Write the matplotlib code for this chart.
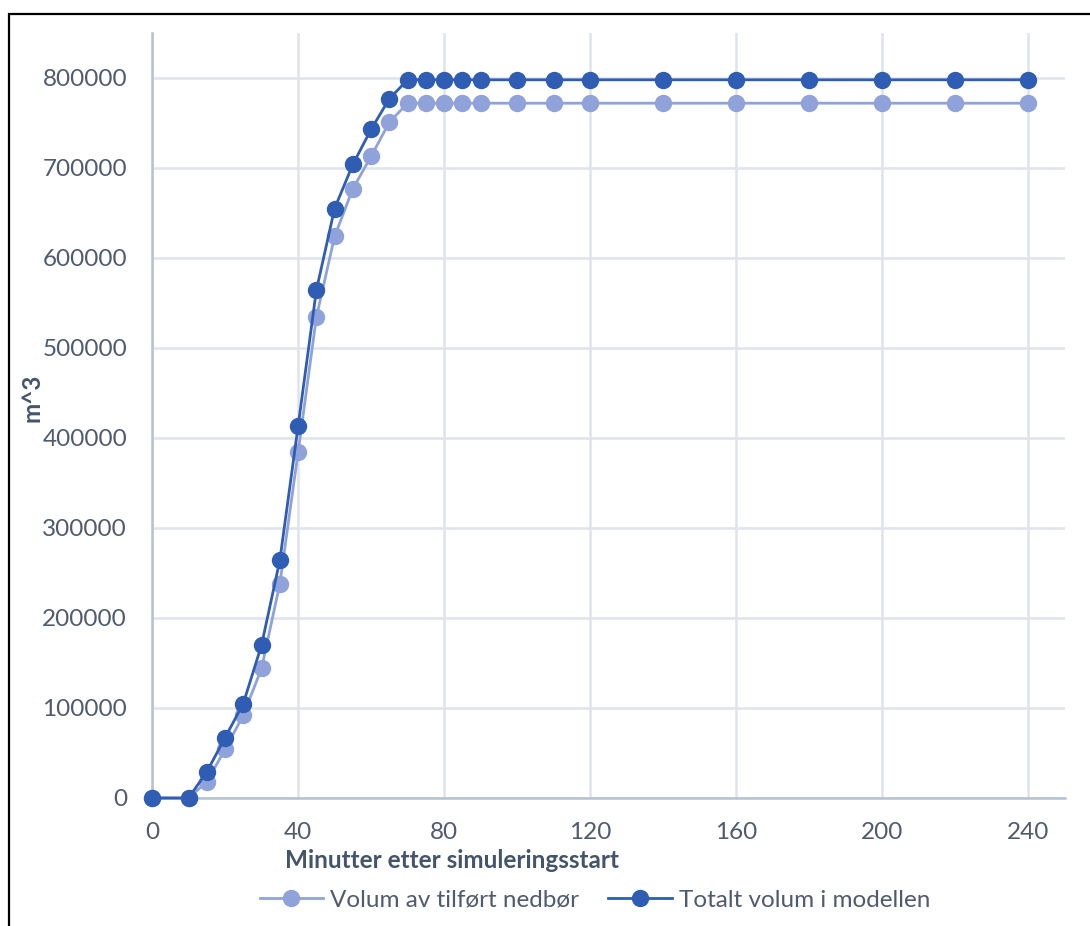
import matplotlib.pyplot as plt
from matplotlib.patches import Rectangle

plt.rcParams['font.family'] = ['Lato', 'DejaVu Sans']

# minutes after simulation start
minutes = [0, 10, 15, 20, 25, 30, 35, 40, 45, 50, 55, 60, 65, 70, 75, 80, 85, 90,
           100, 110, 120, 140, 160, 180, 200, 220, 240]
# volume of added precipitation (m^3)
tilfort = [0, 0, 18000, 54000, 92000, 144000, 238000, 384000, 534000, 624000,
           677000, 713000, 751000, 772000, 772000, 772000, 772000, 772000,
           772000, 772000, 772000, 772000, 772000, 772000, 772000, 772000, 772000]
# total volume in the model (m^3)
totalt = [0, 0, 29000, 67000, 105000, 170000, 264000, 413000, 564000, 655000,
          704000, 743000, 777000, 798000, 798000, 798000, 798000, 798000,
          798000, 798000, 798000, 798000, 798000, 798000, 798000, 798000, 798000]

x_ticks = [0, 40, 80, 120, 160, 200, 240]
y_ticks = [0, 100000, 200000, 300000, 400000, 500000, 600000, 700000, 800000]

text_col = '#4f5b6e'
label_col = '#44546a'
light = '#8fa3da'
dark = '#2f5db3'

fig = plt.figure(figsize=(10.9, 9.26), dpi=100)
ax = fig.add_axes([152/1090, 1 - 798/926, (1065-152)/1090, (798-33)/926])

ax.plot(minutes, tilfort, color=light, lw=2.0, marker='o', ms=11.5,
        label='Volum av tilført nedbør', zorder=3, clip_on=False)
ax.plot(minutes, totalt, color=dark, lw=2.0, marker='o', ms=11.5,
        label='Totalt volum i modellen', zorder=4, clip_on=False)

ax.set_xlim(0, 250)
ax.set_ylim(0, 850000)
ax.set_xticks(x_ticks)
ax.set_yticks(y_ticks)
ax.set_yticklabels([str(v) for v in y_ticks])

ax.grid(True, color='#dfe3ea', lw=1.8, zorder=0)
ax.set_axisbelow(True)
for side in ['top', 'right']:
    ax.spines[side].set_visible(False)
ax.spines['left'].set_color('#b6c1d3')
ax.spines['bottom'].set_color('#b6c1d3')
ax.spines['left'].set_linewidth(1.8)
ax.spines['bottom'].set_linewidth(1.8)

ax.tick_params(axis='both', length=0, labelsize=17.5, colors=text_col)
ax.tick_params(axis='y', pad=18)
ax.tick_params(axis='x', pad=17)

fig.text(452/1090, 1 - 860/926, 'Minutter etter simuleringsstart', ha='center',
         va='center', fontsize=17.5, fontweight='bold', color=label_col)
fig.text(32/1090, 1 - 398/926, 'm^3', rotation=90, ha='center', va='center',
         fontsize=17.5, fontweight='bold', color=label_col)

ax.legend(loc='center', bbox_to_anchor=(595/1090, 1 - 900/926),
          bbox_transform=fig.transFigure, ncol=2, frameon=False,
          fontsize=17.5, labelcolor=text_col, handlelength=2.6,
          handletextpad=0.3, columnspacing=1.2)

# outer frame
fig.patches.append(Rectangle((9/1090, -0.2), 1.5, 1.2 - 14/926,
                             transform=fig.transFigure, fill=False,
                             edgecolor='black', lw=1.6))

fig.savefig('out.png', dpi=100)
